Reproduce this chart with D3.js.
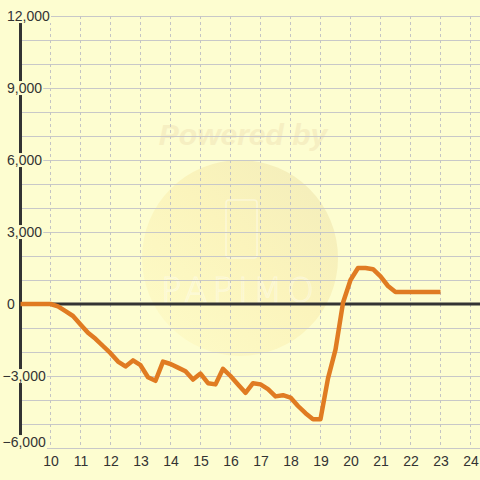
<!DOCTYPE html>
<html>
<head>
<meta charset="utf-8">
<script src="https://cdn.jsdelivr.net/npm/d3@7"></script>
<style>
  html, body { margin: 0; padding: 0; background: #fdfdd0; }
  svg { display: block; }
</style>
</head>
<body>
<svg id="chart" width="480" height="480"></svg>
<script>
// ---- data ----
const hours = [9, 10, 10.25, 10.5, 10.75, 11, 11.25, 11.5, 11.75, 12, 12.25, 12.5, 12.75,
  13, 13.25, 13.5, 13.75, 14, 14.25, 14.5, 14.75, 15, 15.25, 15.5, 15.75,
  16, 16.25, 16.5, 16.75, 17, 17.25, 17.5, 17.75, 18, 18.25, 18.5, 18.75,
  19, 19.25, 19.5, 19.75, 20, 20.25, 20.5, 20.75, 21, 21.25, 21.5, 21.75,
  22, 22.25, 22.5, 22.75, 23];
const values = [0, 0, -100, -300, -500, -850, -1200, -1450, -1750, -2050, -2400, -2600, -2350,
  -2550, -3050, -3200, -2400, -2500, -2650, -2800, -3150, -2900, -3300, -3350, -2700,
  -3000, -3350, -3700, -3300, -3350, -3550, -3850, -3800, -3900, -4250, -4550, -4800,
  -4800, -3100, -1900, 50, 1000, 1500, 1500, 1450, 1150, 750, 500, 500,
  500, 500, 500, 500, 500];
const xTicks = [10, 11, 12, 13, 14, 15, 16, 17, 18, 19, 20, 21, 22, 23, 24];
const yTicks = [-6000, -3000, 0, 3000, 6000, 9000, 12000];
const yGrid = d3.range(-6000, 12001, 1000);

// ---- layout ----
const W = 480, H = 480;
const x = d3.scaleLinear().domain([9, 24]).range([20.5, 470.5]);
const y = d3.scaleLinear().domain([-6000, 12000]).range([448, 16]);
const bg = "#fdfdd0";

const svg = d3.select("#chart");
svg.append("rect").attr("width", W).attr("height", H).attr("fill", bg);

// ---- watermark ----
const defs = svg.append("defs");
const grad = defs.append("linearGradient").attr("id", "wm")
  .attr("x1", "10%").attr("y1", "90%").attr("x2", "90%").attr("y2", "10%");
grad.append("stop").attr("offset", "0%").attr("stop-color", "#fdfac6");
grad.append("stop").attr("offset", "55%").attr("stop-color", "#fbf4bc");
grad.append("stop").attr("offset", "100%").attr("stop-color", "#f4eebb");
const wm = svg.append("g");
wm.append("circle").attr("cx", 240).attr("cy", 258).attr("r", 98).attr("fill", "url(#wm)");
wm.append("text").attr("x", 243).attr("y", 145).attr("text-anchor", "middle")
  .attr("font-family", "Liberation Sans, Arial, sans-serif").attr("font-weight", "bold")
  .attr("font-style", "italic").attr("font-size", 30).attr("fill", "#f6efc2")
  .text("Powered by");
wm.append("rect").attr("x", 226).attr("y", 200).attr("width", 31).attr("height", 58).attr("rx", 3)
  .attr("fill", "none").attr("stroke", "#ffffff").attr("stroke-opacity", 0.4).attr("stroke-width", 1.5);
wm.append("text").attr("x", 240).attr("y", 302).attr("text-anchor", "middle")
  .attr("font-family", "DejaVu Sans, sans-serif").attr("font-size", 34).attr("letter-spacing", 5)
  .attr("font-weight", "200")
  .attr("fill", "none").attr("stroke", "#ffffff").attr("stroke-opacity", 0.4).attr("stroke-width", 1)
  .text("PAPIMO");

// ---- grid ----
const grid = svg.append("g");
grid.selectAll("line.h").data(yGrid).join("line")
  .attr("x1", x(9)).attr("x2", W)
  .attr("y1", d => Math.round(y(d)) + 0.5).attr("y2", d => Math.round(y(d)) + 0.5)
  .attr("stroke", "#c8c8c8").attr("stroke-width", 1.2);
grid.selectAll("line.v").data(xTicks).join("line")
  .attr("x1", d => x(d)).attr("x2", d => x(d))
  .attr("y1", y(12000)).attr("y2", y(-6000))
  .attr("stroke", "#c4c4c4").attr("stroke-width", 1).attr("stroke-dasharray", "3,3");

// ---- zero line & y axis line ----
svg.append("line").attr("x1", x(9)).attr("x2", W).attr("y1", y(0)).attr("y2", y(0))
  .attr("stroke", "#333333").attr("stroke-width", 3);
svg.append("line").attr("x1", x(9)).attr("x2", x(9)).attr("y1", y(12000)).attr("y2", y(-6000))
  .attr("stroke", "#333333").attr("stroke-width", 3);

// ---- series line ----
const line = d3.line().x((d, i) => x(hours[i])).y(d => y(d));
svg.append("path").datum(values).attr("d", line)
  .attr("fill", "none").attr("stroke", "#e07b22").attr("stroke-width", 4.5)
  .attr("stroke-linejoin", "round").attr("stroke-linecap", "butt");

// ---- y labels with background ----
const fmt = d3.format(",");
const yl = svg.append("g").attr("font-family", "Liberation Sans, Arial, sans-serif")
  .attr("font-size", 14).attr("fill", "#333333");
yTicks.forEach(v => {
  const yy = Math.min(y(v), 442);
  const t = yl.append("text").attr("x", v < 0 ? 2.5 : 7).attr("y", yy).attr("dy", "0.36em")
    .text(fmt(v));
  const bb = t.node().getBBox();
  yl.insert("rect", () => t.node()).attr("x", bb.x - 1).attr("y", bb.y + 1)
    .attr("width", bb.width + 2).attr("height", bb.height - 2).attr("fill", bg);
});

// ---- x labels ----
svg.append("g").attr("font-family", "Liberation Sans, Arial, sans-serif")
  .attr("font-size", 14).attr("fill", "#333333")
  .selectAll("text").data(xTicks).join("text")
  .attr("x", d => x(d) + 0.5).attr("y", 461).attr("dy", "0.36em").attr("text-anchor", "middle")
  .text(d => d);
</script>
</body>
</html>
